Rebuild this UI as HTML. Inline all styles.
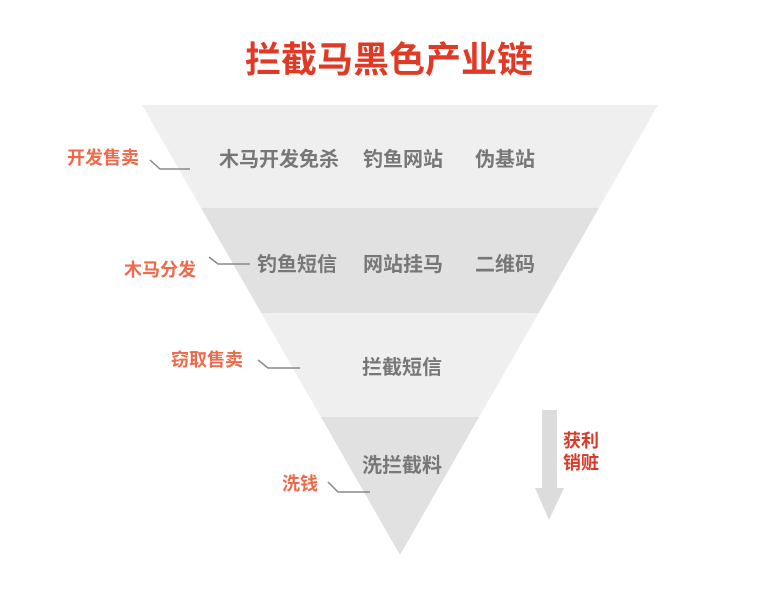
<!DOCTYPE html>
<html><head><meta charset="utf-8"><style>
html,body{margin:0;padding:0;background:#fff;}
body{width:763px;height:600px;position:relative;overflow:hidden;font-family:"Liberation Sans","Noto Sans CJK SC",sans-serif;}
.t{position:absolute;font-weight:bold;white-space:nowrap;line-height:1;}
.g{color:#777;font-size:20px;}
.o{color:#ee6a4a;font-size:18px;}
</style></head><body>
<svg width="763" height="600" style="position:absolute;left:0;top:0">
<defs><clipPath id="c"><polygon points="142,105 658,105 400,555"/></clipPath></defs>
<g clip-path="url(#c)">
<rect x="0" y="105" width="763" height="103" fill="#efefef"/>
<rect x="0" y="208" width="763" height="105" fill="#e1e1e1"/>
<rect x="0" y="313" width="763" height="104" fill="#efefef"/>
<rect x="0" y="417" width="763" height="140" fill="#e1e1e1"/>
</g>
<g stroke="#888" stroke-width="1.5" fill="none">
<polyline points="150,160 160,169 190,169"/>
<polyline points="209,257 218,264 250,264"/>
<polyline points="258,360 268,368 300,368"/>
<polyline points="328,482 338,492 370,492"/>
</g>
<rect x="542" y="410" width="15" height="80" fill="#dcdcdc"/>
<polygon points="535,488 564,488 549,520" fill="#dcdcdc"/>
</svg>
<div class="t" style="left:245px;top:42px;font-size:36px;color:#e03a26;letter-spacing:0px;">拦截马黑色产业链</div>
<div class="t g" style="left:219px;top:150px;">木马开发免杀</div>
<div class="t g" style="left:363px;top:150px;">钓鱼网站</div>
<div class="t g" style="left:475px;top:150px;">伪基站</div>
<div class="t g" style="left:257px;top:255px;">钓鱼短信</div>
<div class="t g" style="left:363px;top:255px;">网站挂马</div>
<div class="t g" style="left:475px;top:255px;">二维码</div>
<div class="t g" style="left:362px;top:358px;">拦截短信</div>
<div class="t g" style="left:362px;top:456px;">洗拦截料</div>
<div class="t o" style="left:67px;top:149px;">开发售卖</div>
<div class="t o" style="left:124px;top:261px;">木马分发</div>
<div class="t o" style="left:171px;top:351px;">窃取售卖</div>
<div class="t o" style="left:282px;top:475px;">洗钱</div>
<div class="t" style="left:563px;top:430px;font-size:18px;color:#d63a2a;line-height:22px;">获利<br>销赃</div>
</body></html>
